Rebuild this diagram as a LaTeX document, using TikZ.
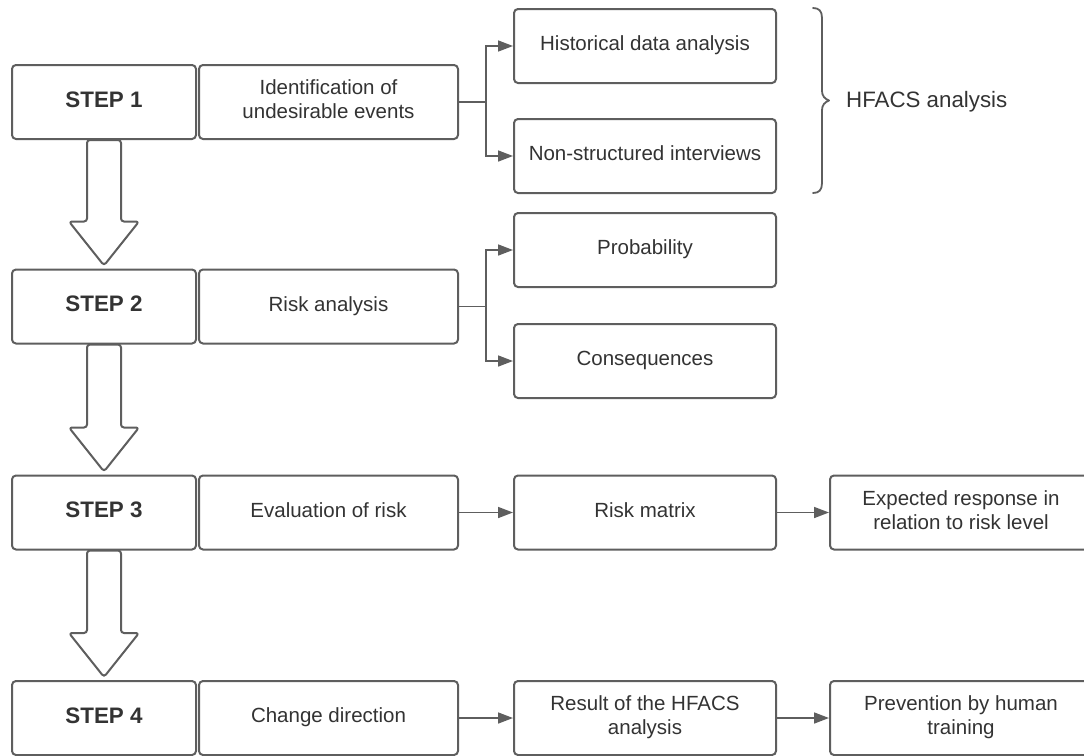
\documentclass[tikz,border=0pt]{standalone}
\usepackage{fontspec}
\setmainfont{Liberation Sans}
\usetikzlibrary{arrows.meta,calc}
\definecolor{linec}{HTML}{5E5E5E}
\definecolor{txtc}{HTML}{333333}
\tikzset{
  box/.style={draw=linec, line width=2pt, rounded corners=4pt, fill=white, inner sep=0pt,
    align=center, text=txtc, font=\fontsize{20.5}{24}\selectfont},
  stepbox/.style={box, minimum width=184pt, minimum height=74pt, font=\fontsize{22.4}{26}\selectfont\bfseries},
  descbox/.style={box, minimum width=259pt, minimum height=74pt},
  rbox/.style={box, minimum width=262pt, minimum height=74pt},
  conn/.style={draw=linec, line width=1.6pt, -{Triangle[length=15pt,width=11pt]}},
  barrow/.style={draw=linec, line width=2pt, fill=white, rounded corners=3pt, line join=round},
  bracestyle/.style={draw=linec, line width=1.8pt, line cap=round, line join=round},
  hftext/.style={anchor=west, inner sep=0pt, text=txtc, font=\fontsize{22.3}{26}\selectfont},
}
\newcommand\blockarrow[2]{%
  \draw[barrow] ([xshift=-17pt]#1.south) -- ([xshift=-17pt,yshift=47pt]#2.north)
    -- ([xshift=-35pt,yshift=47pt]#2.north) -- ([yshift=3pt]#2.north)
    -- ([xshift=35pt,yshift=47pt]#2.north) -- ([xshift=17pt,yshift=47pt]#2.north)
    -- ([xshift=17pt]#1.south) -- cycle;}
\begin{document}
\begin{tikzpicture}[x=1pt,y=-1pt]
\useasboundingbox (0,0) rectangle (1084,755);
\clip (0,0) rectangle (1084,755);
\fill[white] (0,0) rectangle (1084,755);

% Row 1
\node[stepbox] (s1) at (104,102) {\strut STEP 1};
\node[descbox] (d1) at (328.5,102) {\strut Identification of\\\strut undesirable events};
\node[rbox] (h) at (645,46) {\strut Historical data analysis};
\node[rbox] (ns) at (645,156) {\strut Non-structured interviews};

% Row 2
\node[stepbox] (s2) at (104,306.5) {\strut STEP 2};
\node[descbox] (d2) at (328.5,306.5) {\strut Risk analysis};
\node[rbox] (pr) at (645,250) {\strut Probability};
\node[rbox] (co) at (645,361) {\strut Consequences};

% Row 3
\node[stepbox] (s3) at (104,512.5) {\strut STEP 3};
\node[descbox] (d3) at (328.5,512.5) {\strut Evaluation of risk};
\node[rbox] (rm) at (645,512.5) {\strut Risk matrix};
\node[rbox] (ex) at (961,512.5) {\strut Expected response in\\\strut relation to risk level};

% Row 4
\node[stepbox] (s4) at (104,718) {\strut STEP 4};
\node[descbox] (d4) at (328.5,718) {\strut Change direction};
\node[rbox] (re) at (645,718) {\strut Result of the HFACS\\\strut analysis};
\node[rbox] (pv) at (961,718) {\strut Prevention by human\\\strut training};

% Connectors
\draw[conn] (d1.east) -- ++(27,0) |- (h.west);
\draw[conn] (d1.east) -- ++(27,0) |- (ns.west);
\draw[conn] (d2.east) -- ++(27,0) |- (pr.west);
\draw[conn] (d2.east) -- ++(27,0) |- (co.west);
\draw[conn] (d3.east) -- (rm.west);
\draw[conn] (rm.east) -- (ex.west);
\draw[conn] (d4.east) -- (re.west);
\draw[conn] (re.east) -- (pv.west);

% Block arrows
\blockarrow{s1}{s2}
\blockarrow{s2}{s3}
\blockarrow{s3}{s4}

% Brace and label
\draw[bracestyle] (813,8) .. controls (819,8) and (822,11) .. (822,18) -- (822,91)
  .. controls (822,96) and (825,99) .. (829,100.5)
  .. controls (825,102) and (822,105) .. (822,110) -- (822,183)
  .. controls (822,190) and (819,193) .. (813,193);
\node[hftext] (hf) at (846,102) {\strut HFACS analysis};
\end{tikzpicture}
\end{document}
